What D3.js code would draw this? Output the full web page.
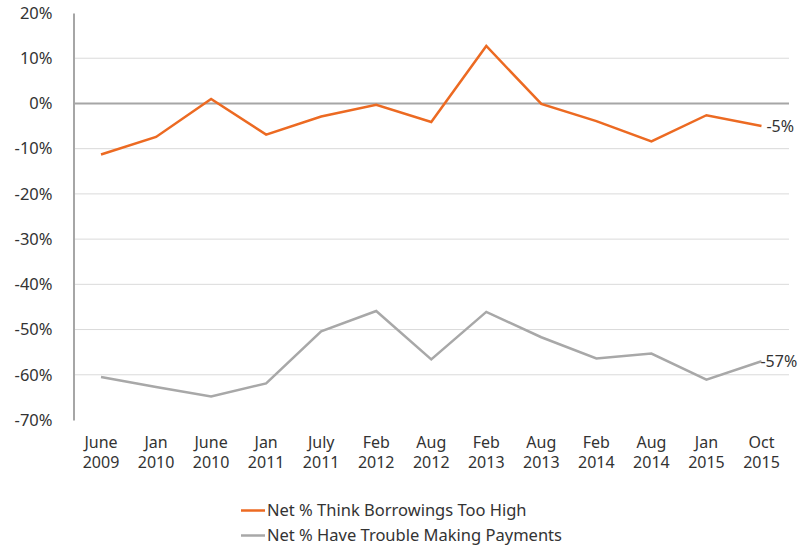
<!DOCTYPE html>
<html>
<head>
<meta charset="utf-8">
<script src="https://cdn.jsdelivr.net/npm/d3@7"></script>
<style>
  html, body { margin: 0; padding: 0; background: #fff; }
  svg { display: block; }
  text { font-family: "Noto Sans", "DejaVu Sans", sans-serif; fill: #333; }
</style>
</head>
<body>
<svg id="chart" width="803" height="549"></svg>
<script>
// Survey dates (two-line labels: month / year)
const months = ["June", "Jan", "June", "Jan", "July", "Feb", "Aug", "Feb", "Aug", "Feb", "Aug", "Jan", "Oct"];
const years = ["2009", "2010", "2010", "2011", "2011", "2012", "2012", "2013", "2013", "2014", "2014", "2015", "2015"];

// Net % think borrowings too high
const borrowingsTooHigh = [-11.3, -7.4, 1.0, -6.9, -2.9, -0.3, -4.1, 12.7, -0.1, -3.9, -8.4, -2.6, -5];

// Net % have trouble making payments
const troublePayments = [-60.5, -62.7, -64.8, -61.9, -50.4, -45.9, -56.6, -46.1, -51.7, -56.4, -55.3, -61.1, -57];

const yTicks = [20, 10, 0, -10, -20, -30, -40, -50, -60, -70];

const seriesNames = ["Net % Think Borrowings Too High", "Net % Have Trouble Making Payments"];
const seriesColors = ["#EC6A22", "#A8A8A8"];
const endLabels = ["-5%", "-57%"];

const svg = d3.select("#chart");

const plotLeft = 73.5, plotRight = 789, plotTop = 13, plotBottom = 420;

const x = d3.scalePoint()
  .domain(months.map((d, i) => i))
  .range([plotLeft, plotRight])
  .padding(0.5);

const y = d3.scaleLinear()
  .domain([-70, 20])
  .range([plotBottom, plotTop]);

// Horizontal gridlines
svg.append("g")
  .selectAll("line")
  .data(yTicks.filter(t => t !== 20 && t !== -70 && t !== 0))
  .join("line")
  .attr("x1", plotLeft).attr("x2", plotRight)
  .attr("y1", d => y(d)).attr("y2", d => y(d))
  .attr("stroke", "#DADADA")
  .attr("stroke-width", 1);

// Y axis with percentage labels
const yAxis = d3.axisLeft(y)
  .tickValues(yTicks)
  .tickSize(0)
  .tickPadding(21)
  .tickFormat(d => d + "%");

const yg = svg.append("g")
  .attr("transform", `translate(${plotLeft},0)`)
  .call(yAxis);
yg.select(".domain").attr("stroke", "#A6A6A6").attr("stroke-width", 2);
yg.selectAll("text")
  .style("font-size", "16.5px")
  .attr("fill", "#444")
  .attr("font-family", null);

// Zero line
svg.append("line")
  .attr("x1", plotLeft).attr("x2", plotRight)
  .attr("y1", y(0)).attr("y2", y(0))
  .attr("stroke", "#A6A6A6")
  .attr("stroke-width", 2);

// X axis labels: month line and year line
const xg = svg.append("g")
  .attr("text-anchor", "middle")
  .style("font-size", "16px");
xg.selectAll("text.month")
  .data(months)
  .join("text")
  .attr("class", "month")
  .attr("x", (d, i) => x(i))
  .attr("y", 448)
  .attr("fill", "#333")
  .text(d => d);
xg.selectAll("text.year")
  .data(years)
  .join("text")
  .attr("class", "year")
  .attr("x", (d, i) => x(i))
  .attr("y", 468)
  .attr("fill", "#333")
  .text(d => d);

// Lines
const line = d3.line()
  .x((d, i) => x(i))
  .y(d => y(d));

svg.append("path")
  .datum(troublePayments)
  .attr("fill", "none")
  .attr("stroke", seriesColors[1])
  .attr("stroke-width", 2.5)
  .attr("d", line);

svg.append("path")
  .datum(borrowingsTooHigh)
  .attr("fill", "none")
  .attr("stroke", seriesColors[0])
  .attr("stroke-width", 2.5)
  .attr("d", line);

// End-of-series value labels
const last = months.length - 1;
svg.append("text")
  .attr("x", x(last) + 5)
  .attr("y", y(borrowingsTooHigh[last]))
  .attr("dy", "0.35em")
  .style("font-size", "16px")
  .attr("fill", "#444")
  .text(endLabels[0]);

svg.append("text")
  .attr("x", x(last) - 1)
  .attr("y", y(troublePayments[last]))
  .attr("dy", "0.35em")
  .style("font-size", "16px")
  .attr("fill", "#444")
  .text(endLabels[1]);

// Legend
const legend = svg.append("g");
seriesNames.forEach((name, i) => {
  const ly = 510.5 + i * 25;
  legend.append("line")
    .attr("x1", 241).attr("x2", 265)
    .attr("y1", ly).attr("y2", ly)
    .attr("stroke", seriesColors[i])
    .attr("stroke-width", 2.5);
  legend.append("text")
    .attr("x", 267)
    .attr("y", ly)
    .attr("dy", "0.35em")
    .style("font-size", "16.5px")
    .attr("fill", "#333")
    .text(name);
});
</script>
</body>
</html>
